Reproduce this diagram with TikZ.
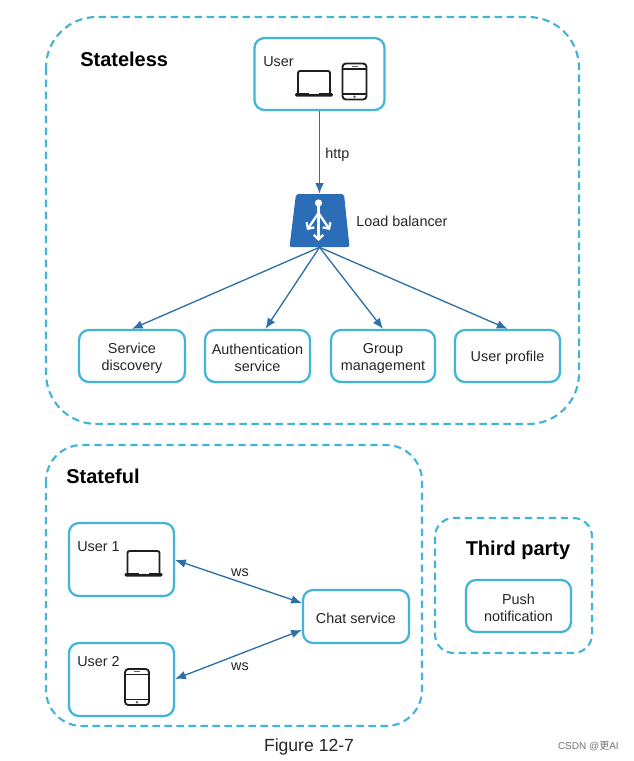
\documentclass[tikz,border=0pt]{standalone}
\usepackage{fontspec}
\setmainfont{Liberation Sans}
\newfontfamily\cjkfont{Noto Sans CJK SC}
\usetikzlibrary{arrows.meta,calc}
\definecolor{boxline}{HTML}{42B5D6}
\definecolor{linkblue}{HTML}{2F6FA8}
\definecolor{lbblue}{HTML}{2B6DB6}
\definecolor{icon}{HTML}{1E1E1E}
% taller first line, which sets a card's text a little below its centre
\newcommand{\lift}{\rule{0pt}{10.8pt}}
\tikzset{
  x=0.75pt, y=-0.75pt,
  every node/.style={font=\fontsize{10.8pt}{12.8pt}\selectfont, text=black!85, inner sep=0pt},
  zone/.style={draw=boxline, line width=1.6pt, dash pattern=on 5.5pt off 3.5pt, fill=none},
  card/.style={draw=boxline, line width=1.7pt, rounded corners=7.5pt, fill=white, align=center},
  link/.style={draw=linkblue, line width=1pt, -{Latex[length=8pt,width=6.5pt]}},
  duplex/.style={draw=linkblue, line width=1pt, {Latex[length=8pt,width=6.5pt]}-{Latex[length=8pt,width=6.5pt]}},
  zonetitle/.style={font=\fontsize{15pt}{18pt}\selectfont\bfseries, text=black},
  glyph/.style={white, line width=1.7pt, -{Straight Barb[length=3.5pt,width=7pt,line width=1.7pt]}},
  laptop/.pic={
    \draw[icon, line width=1.4pt, rounded corners=1.5pt] (-16,11) -- (-16,-11) -- (16,-11) -- (16,11);
    \fill[icon, rounded corners=1pt] (-19,11) rectangle (19,14.5);
    \fill[white] (-5,11) rectangle (5,12.3);
  },
  phone/.pic={
    \draw[icon, line width=1.4pt, rounded corners=2.5pt, fill=white] (-12,-18) rectangle (12,18);
    \draw[icon, line width=1.2pt] (-12,-12.5) -- (12,-12.5) (-12,12.5) -- (12,12.5);
    \draw[icon!70, line width=1pt] (-3,-15.2) -- (3,-15.2);
    \fill[icon!70] (0,15.2) circle (1.3);
  },
}
\begin{document}
\begin{tikzpicture}
\useasboundingbox (0,0) rectangle (633,761);

% dashed zones
\draw[zone, rounded corners=38pt] (46,17) rectangle (579,424);
\draw[zone, rounded corners=27pt] (46,445) rectangle (422,726);
\draw[zone, rounded corners=14pt] (435,518) rectangle (592,653);

\node[zonetitle, anchor=west] (tstateless) at (80,59) {Stateless};
\node[zonetitle, anchor=west] (tstateful) at (66,476) {Stateful};
\node[zonetitle] (tthird) at (518,550.5) {Third party};

% stateless tier
\node[card, minimum width=97.5pt, minimum height=54pt] (user) at (319.5,74) {};
\node[anchor=west] (userlabel) at (263,62) {User};
\pic at (314,82) {laptop};
\pic at (354.5,81.5) {phone};

% load balancer: a trapezoid around an invisible anchor node
\node[minimum width=36pt, minimum height=39.75pt] (lb) at (319.5,220.5) {};
\fill[lbblue, rounded corners=1.5pt] (296,194) -- (344,194) -- (349.5,247) -- (289.5,247) -- cycle;
\fill[white] (318.5,203) circle (3.6);
\draw[white, line width=1.7pt] (318.5,203) -- (318.5,215);
\draw[glyph] (318.5,213) -- (307,230);
\draw[glyph] (318.5,213) -- (330,230);
\draw[glyph] (318.5,213) -- (318.5,241);
\node[anchor=west] (lblabel) at (356,221) {Load balancer};

\node[card, minimum width=79.5pt, minimum height=39pt] (sd) at (132,356) {\lift Service\\discovery};
\node[card, minimum width=78.75pt, minimum height=39pt] (auth) at (257.5,356) {\lift Authentication\\service};
\node[card, minimum width=78pt, minimum height=39pt] (group) at (383,356) {\lift Group\\management};
\node[card, minimum width=78.75pt, minimum height=39pt] (profile) at (507.5,356) {\lift User profile};

\draw[link] (user.south) -- (lb.north);
\node[anchor=west] (http) at (325,154.5) {http};
\coordinate (fan) at (lb.south);
\draw[link] (fan) -- (sd.north);
\draw[link] (fan) -- ($(auth.north)+(8,0)$);
\draw[link] (fan) -- (group.north);
\draw[link] (fan) -- (profile.north);

% stateful tier
\node[card, minimum width=78.75pt, minimum height=54.75pt] (u1) at (121.5,559.5) {};
\node[anchor=west] (u1label) at (77,547) {User 1};
\pic at (143.5,562) {laptop};
\node[card, minimum width=78.75pt, minimum height=54.75pt] (u2) at (121.5,679.5) {};
\node[anchor=west] (u2label) at (77,662) {User 2};
\pic at (137,687) {phone};
\node[card, minimum width=79.5pt, minimum height=39.75pt] (chat) at (356,616.5) {\lift Chat service};

\draw[duplex] ($(u1.east)+(0,0.5)$) -- ($(chat.west)+(0,-13.5)$);
\draw[duplex] ($(u2.east)+(0,-0.5)$) -- ($(chat.west)+(0,13.5)$);
\node (ws1) at (240,572.5) {ws};
\node (ws2) at (240,666.5) {ws};

% third party
\node[card, minimum width=78.75pt, minimum height=39pt] (push) at (518.5,606) {\lift Push\\notification};

% caption and credit
\node (caption) at (309,747) {\fontsize{13.2pt}{16pt}\selectfont Figure 12-7};
\node[anchor=east, text=black!55] (credit) at (619,746) {\fontsize{7.5pt}{9pt}\selectfont CSDN @{\cjkfont 更}AI};
\end{tikzpicture}
\end{document}
